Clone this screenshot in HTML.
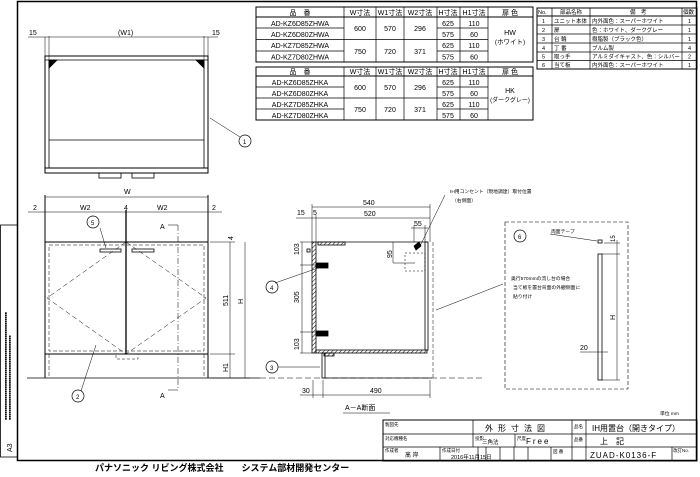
<!DOCTYPE html>
<html><head><meta charset="utf-8"><style>
html,body{margin:0;padding:0;background:#fff}
svg{display:block}
text{font-family:"Liberation Sans","Noto Sans CJK JP",sans-serif;fill:#000}
</style></head><body>
<svg width="700" height="477" viewBox="0 0 700 477" xmlns="http://www.w3.org/2000/svg">
<defs>
<pattern id="h" width="3" height="3" patternUnits="userSpaceOnUse" patternTransform="rotate(45)"><line x1="0" y1="0" x2="0" y2="3" stroke="#000" stroke-width="1"/></pattern>
</defs>
<!-- frame -->
<rect x="17.5" y="1.5" width="679" height="459" fill="none" stroke="#000" stroke-width="1.5"/>
<rect x="0.5" y="225" width="17" height="232" fill="none" stroke="#000" stroke-width="0.8"/>
<text transform="translate(12,452) rotate(-90)" font-size="7">A3</text>
<text transform="translate(7,420) rotate(-90)" font-size="3.5">■■■■■■■■■■■■■■■■■■■■■■■■■■■■■■■■■■■■■■■■■■■■■■■■■■■</text>
<text transform="translate(11,420) rotate(-90)" font-size="3.5">■■■■■■■■■■■■■■■■■■■■■■■■■■■■■■■■■■■■■■■■</text>

<!-- Table 1 -->
<g stroke="#000" stroke-width="0.7" fill="none">
<rect x="256" y="7" width="277" height="55" stroke-width="1"/>
<line x1="256" y1="17" x2="533" y2="17" stroke-width="1"/>
<line x1="256" y1="28" x2="344" y2="28"/>
<line x1="256" y1="39.5" x2="488" y2="39.5"/>
<line x1="256" y1="51" x2="344" y2="51"/><line x1="437" y1="51" x2="488" y2="51"/>
<line x1="437" y1="28" x2="488" y2="28"/>
<line x1="344" y1="7" x2="344" y2="62"/><line x1="376" y1="7" x2="376" y2="62"/><line x1="404" y1="7" x2="404" y2="62"/>
<line x1="437" y1="7" x2="437" y2="62"/><line x1="460" y1="7" x2="460" y2="62"/><line x1="488" y1="7" x2="488" y2="62"/>
</g>
<g font-size="7" text-anchor="middle">
<text x="300" y="15">品　番</text><text x="360" y="15">W寸法</text><text x="390" y="15">W1寸法</text><text x="420" y="15">W2寸法</text><text x="448" y="15">H寸法</text><text x="474" y="15">H1寸法</text><text x="510" y="15">扉 色</text>
<text x="300" y="26">AD-KZ6D85ZHWA</text><text x="300" y="37">AD-KZ6D80ZHWA</text><text x="300" y="48">AD-KZ7D85ZHWA</text><text x="300" y="59.5">AD-KZ7D80ZHWA</text>
<text x="360" y="31">600</text><text x="390" y="31">570</text><text x="420" y="31">296</text>
<text x="360" y="54">750</text><text x="390" y="54">720</text><text x="420" y="54">371</text>
<text x="448" y="26">625</text><text x="474" y="26">110</text><text x="448" y="37">575</text><text x="474" y="37">60</text>
<text x="448" y="48">625</text><text x="474" y="48">110</text><text x="448" y="59.5">575</text><text x="474" y="59.5">60</text>
<text x="510" y="35">HW</text><text x="510" y="44" font-size="6.5">(ホワイト)</text>
</g>
<!-- Table 2 -->
<g stroke="#000" stroke-width="0.7" fill="none">
<rect x="256" y="67" width="277" height="53" stroke-width="1"/>
<line x1="256" y1="76" x2="533" y2="76" stroke-width="1"/>
<line x1="256" y1="87" x2="344" y2="87"/><line x1="437" y1="87" x2="488" y2="87"/>
<line x1="256" y1="98" x2="488" y2="98"/>
<line x1="256" y1="109" x2="344" y2="109"/><line x1="437" y1="109" x2="488" y2="109"/>
<line x1="344" y1="67" x2="344" y2="120"/><line x1="376" y1="67" x2="376" y2="120"/><line x1="404" y1="67" x2="404" y2="120"/>
<line x1="437" y1="67" x2="437" y2="120"/><line x1="460" y1="67" x2="460" y2="120"/><line x1="488" y1="67" x2="488" y2="120"/>
</g>
<g font-size="7" text-anchor="middle">
<text x="300" y="74">品　番</text><text x="360" y="74">W寸法</text><text x="390" y="74">W1寸法</text><text x="420" y="74">W2寸法</text><text x="448" y="74">H寸法</text><text x="474" y="74">H1寸法</text><text x="510" y="74">扉 色</text>
<text x="300" y="85">AD-KZ6D85ZHKA</text><text x="300" y="96">AD-KZ6D80ZHKA</text><text x="300" y="107">AD-KZ7D85ZHKA</text><text x="300" y="118">AD-KZ7D80ZHKA</text>
<text x="360" y="90">600</text><text x="390" y="90">570</text><text x="420" y="90">296</text>
<text x="360" y="112">750</text><text x="390" y="112">720</text><text x="420" y="112">371</text>
<text x="448" y="85">625</text><text x="474" y="85">110</text><text x="448" y="96">575</text><text x="474" y="96">60</text>
<text x="448" y="107">625</text><text x="474" y="107">110</text><text x="448" y="118">575</text><text x="474" y="118">60</text>
<text x="510" y="93">HK</text><text x="510" y="102" font-size="6">(ダークグレー)</text>
</g>
<!-- Parts table -->
<g stroke="#000" stroke-width="0.7" fill="none">
<rect x="537" y="8" width="160" height="61" stroke-width="1"/>
<line x1="537" y1="16" x2="697" y2="16" stroke-width="1"/>
<line x1="537" y1="25" x2="697" y2="25"/><line x1="537" y1="34" x2="697" y2="34"/><line x1="537" y1="43" x2="697" y2="43"/>
<line x1="537" y1="52" x2="697" y2="52"/><line x1="537" y1="60.5" x2="697" y2="60.5"/>
<line x1="552" y1="8" x2="552" y2="69"/><line x1="590" y1="8" x2="590" y2="69"/><line x1="682" y1="8" x2="682" y2="69"/>
</g>
<g font-size="5.5">
<text x="538" y="14">No.</text><text x="560" y="14">部品名称</text><text x="630" y="14">備　考</text><text x="683" y="14">個数</text>
<text x="542" y="23">1</text><text x="554" y="23">ユニット本体</text><text x="592" y="23">内外面色：スーパーホワイト</text><text x="688" y="23">1</text>
<text x="542" y="32">2</text><text x="554" y="32">扉</text><text x="592" y="32">色：ホワイト、ダークグレー</text><text x="688" y="32">1</text>
<text x="542" y="41">3</text><text x="554" y="41">台 輪</text><text x="592" y="41">樹脂製（ブラック色）</text><text x="688" y="41">1</text>
<text x="542" y="50">4</text><text x="554" y="50">丁 番</text><text x="592" y="50">ブルム製</text><text x="688" y="50">4</text>
<text x="542" y="58.5">5</text><text x="554" y="58.5">取っ手</text><text x="592" y="58.5">アルミダイキャスト、色：シルバー</text><text x="688" y="58.5">2</text>
<text x="542" y="67">6</text><text x="554" y="67">当て板</text><text x="592" y="67">内外面色：スーパーホワイト</text><text x="688" y="67">1</text>
</g>

<!-- Top view -->
<g stroke="#000" fill="none" stroke-width="0.8">
<line x1="28" y1="37" x2="218" y2="37" stroke-width="0.5"/>
<line x1="45" y1="37" x2="45" y2="56" stroke-width="0.5"/><line x1="208" y1="37" x2="208" y2="56" stroke-width="0.5"/>
<line x1="49" y1="36" x2="49" y2="60" stroke-width="0.5"/><line x1="204" y1="36" x2="204" y2="60" stroke-width="0.5"/>
<rect x="45" y="56" width="163" height="112" stroke-width="1"/>
<line x1="45" y1="60" x2="208" y2="60"/>
<line x1="49" y1="60" x2="49" y2="168"/><line x1="204" y1="60" x2="204" y2="168"/>
<line x1="49" y1="140" x2="204" y2="140"/>
<rect x="45" y="168" width="163" height="5" stroke-width="1"/>
<rect x="99" y="173" width="22" height="5"/><rect x="132" y="173" width="22" height="5"/>
<path d="M49 60 L57 60 L49 68 Z M204 60 L196 60 L204 68 Z" fill="#000"/>
<line x1="210" y1="118" x2="240" y2="137" stroke-width="0.5"/>
<circle cx="245" cy="141" r="6" stroke-width="0.7"/>
</g>
<g font-size="7"><text x="29" y="35">15</text><text x="118" y="35">(W1)</text><text x="212" y="35">15</text><text x="243" y="144" font-size="6">1</text></g>

<!-- Front view -->
<g stroke="#000" fill="none" stroke-width="0.8">
<line x1="45" y1="197" x2="208" y2="197" stroke-width="0.5"/>
<line x1="28" y1="212" x2="222" y2="212" stroke-width="0.5"/>
<line x1="45" y1="195" x2="45" y2="378" stroke-width="1"/><line x1="208" y1="195" x2="208" y2="378" stroke-width="1"/>
<line x1="126" y1="210" x2="126" y2="354" stroke-width="1.3"/>
<rect x="45" y="242" width="163" height="112" stroke-width="1"/>
<rect x="49" y="245" width="155" height="106" stroke-dasharray="4,2" stroke-width="0.5"/>
<line x1="49" y1="354" x2="49" y2="378" stroke-dasharray="4,2" stroke-width="0.5"/>
<line x1="204" y1="354" x2="204" y2="378" stroke-dasharray="4,2" stroke-width="0.5"/>
<path d="M126 242 L47 298 L126 354 L206 298 Z" stroke-dasharray="5,3" stroke-width="0.5"/>
<rect x="116" y="354" width="22" height="5" stroke-dasharray="3,2" stroke-width="0.5"/>
<rect x="100" y="249" width="21" height="3"/><rect x="132" y="249" width="22" height="3"/>
<line x1="27" y1="378" x2="260" y2="378"/>
<line x1="210" y1="242" x2="235" y2="242" stroke-width="0.5"/>
<line x1="210" y1="354" x2="235" y2="354" stroke-width="0.5"/>
<line x1="210" y1="378" x2="250" y2="378" stroke-width="0.5"/>
<line x1="245" y1="242" x2="245" y2="378" stroke-width="0.5"/>
<line x1="230" y1="242" x2="230" y2="378" stroke-width="0.5"/>
<path d="M178 225 L178 390" stroke-dasharray="6,2,1,2" stroke-width="0.5"/>
<line x1="168" y1="225" x2="178" y2="225" stroke-width="0.5"/><line x1="168" y1="390" x2="178" y2="390" stroke-width="0.5"/>
<line x1="100" y1="228" x2="106" y2="248" stroke-width="0.5"/>
<circle cx="93" cy="222" r="6" stroke-width="0.7"/>
<line x1="81" y1="391" x2="96" y2="345" stroke-width="0.5"/>
<circle cx="78" cy="396" r="6" stroke-width="0.7"/>
</g>
<g font-size="7">
<text x="124" y="194">W</text><text x="33" y="210">2</text><text x="80" y="210">W2</text><text x="124" y="210">4</text><text x="157" y="210">W2</text><text x="212" y="210">2</text>
<text x="160" y="229">A</text><text x="160" y="398">A</text>
<text x="91" y="225" font-size="6">5</text><text x="76" y="399" font-size="6">2</text>
<text transform="translate(233,240) rotate(-90)">4</text>
<text transform="translate(228,306) rotate(-90)">511</text>
<text transform="translate(243,304) rotate(-90)">H</text>
<text transform="translate(228,372) rotate(-90)">H1</text>
</g>

<!-- Section A-A -->
<g stroke="#000" fill="none" stroke-width="0.8">
<line x1="312" y1="207" x2="430" y2="207" stroke-width="0.5"/>
<line x1="296" y1="218" x2="430" y2="218" stroke-width="0.5"/>
<line x1="430" y1="204" x2="430" y2="242" stroke-width="0.5"/>
<line x1="312" y1="204" x2="312" y2="242" stroke-width="0.5"/><line x1="316" y1="215" x2="316" y2="242" stroke-width="0.5"/>
<rect x="312" y="242" width="4" height="111" fill="url(#h)"/>
<rect x="316" y="350" width="111" height="3" fill="url(#h)"/>
<rect x="425" y="242" width="3" height="108"/>
<rect x="318" y="242" width="27" height="3" fill="url(#h)"/>
<line x1="316" y1="242" x2="428" y2="242"/>
<rect x="322" y="353" width="3" height="25"/>
<rect x="324" y="353" width="10" height="3" fill="url(#h)"/>
<line x1="325" y1="378" x2="432" y2="378"/>
<line x1="260" y1="378" x2="482" y2="378" stroke-dasharray="6,3" stroke-width="0.5"/>
<line x1="433" y1="242" x2="433" y2="378" stroke-dasharray="4,2" stroke-width="0.5"/>
<rect x="316" y="263" width="12" height="5" fill="#000"/><rect x="316" y="331" width="12" height="5" fill="#000"/>
<rect x="307" y="249" width="3" height="3"/>
<line x1="300" y1="242" x2="312" y2="242" stroke-width="0.5"/><line x1="300" y1="353" x2="312" y2="353" stroke-width="0.5"/>
<line x1="300" y1="265" x2="316" y2="265" stroke-width="0.5"/><line x1="300" y1="332" x2="316" y2="332" stroke-width="0.5"/>
<line x1="302" y1="242" x2="302" y2="353" stroke-width="0.5"/>
<line x1="393" y1="242" x2="393" y2="263" stroke-width="0.5"/><line x1="393" y1="263" x2="415" y2="263" stroke-width="0.5"/>
<line x1="414" y1="225" x2="414" y2="242" stroke-width="0.5"/><line x1="425" y1="225" x2="425" y2="242" stroke-width="0.5"/>
<line x1="411" y1="228" x2="428" y2="228" stroke-width="0.5"/>
<rect x="405" y="253" width="20" height="18" stroke-dasharray="2,2" stroke-width="0.5"/>
<path d="M414 246 L419 242 L421 246 L416 250 Z" fill="#000"/>
<line x1="420" y1="246" x2="445" y2="195" stroke-width="0.5"/>
<line x1="275" y1="283" x2="318" y2="268" stroke-width="0.5"/><circle cx="272" cy="287" r="6" stroke-width="0.7"/>
<line x1="278" y1="367" x2="320" y2="367" stroke-width="0.5"/><circle cx="272" cy="367" r="6" stroke-width="0.7"/>
<line x1="300" y1="395" x2="323" y2="395" stroke-width="0.5"/>
<line x1="323" y1="395" x2="430" y2="395" stroke-width="0.5"/>
<line x1="313" y1="380" x2="313" y2="398" stroke-width="0.5"/><line x1="323" y1="380" x2="323" y2="398" stroke-width="0.5"/><line x1="430" y1="380" x2="430" y2="398" stroke-width="0.5"/>
<line x1="343" y1="413" x2="390" y2="413" stroke-width="0.6"/>
<rect x="505" y="222" width="123" height="167" stroke-dasharray="4,2" stroke-width="0.6"/>
<circle cx="520" cy="236" r="6" stroke-width="0.7"/>
<rect x="598" y="254" width="4" height="126"/>
<rect x="598" y="240" width="4" height="3"/>
<line x1="550" y1="234" x2="597" y2="241" stroke-width="0.5"/>
<line x1="602" y1="254" x2="620" y2="254" stroke-width="0.5"/><line x1="602" y1="380" x2="620" y2="380" stroke-width="0.5"/>
<line x1="617" y1="240" x2="617" y2="380" stroke-width="0.5"/>
<line x1="604" y1="243" x2="620" y2="243" stroke-width="0.5"/>
<line x1="580" y1="352" x2="608" y2="352" stroke-width="0.5"/>
<line x1="503" y1="284" x2="436" y2="310" stroke-width="0.5"/>
</g>
<g font-size="7">
<text x="363" y="205">540</text><text x="364" y="216">520</text><text x="297" y="215">15</text><text x="313" y="215">5</text>
<text x="414" y="226">55</text>
<text transform="translate(392,258) rotate(-90)">95</text>
<text transform="translate(299,255) rotate(-90)">103</text>
<text transform="translate(299,303) rotate(-90)">305</text>
<text transform="translate(299,350) rotate(-90)">103</text>
<text x="270" y="290" font-size="6">4</text><text x="270" y="370" font-size="6">3</text><text x="518" y="239" font-size="6">6</text>
<text x="302" y="393">30</text><text x="370" y="393">490</text>
<text x="345" y="410">A－A断面</text>
<text x="580" y="350">20</text>
<text transform="translate(615,242) rotate(-90)" font-size="6">15</text>
<text transform="translate(615,320) rotate(-90)">H</text>
</g>
<g font-size="4.8">
<text x="450" y="193">IH用コンセント（現地調達）取付位置</text>
<text x="452" y="202">（右側面）</text>
<text x="551" y="233">両面テープ</text>
<text x="511" y="280">奥行570mmの流し台の場合</text>
<text x="513" y="289">当て板を置台背面の外観側面に</text>
<text x="513" y="298">貼り付け</text>
<text x="660" y="415">単位 mm</text>
</g>

<!-- Title block -->
<g stroke="#000" fill="none" stroke-width="0.7">
<rect x="383" y="420" width="314" height="41" stroke-width="1"/>
<line x1="383" y1="434" x2="697" y2="434"/><line x1="383" y1="447" x2="697" y2="447"/>
<line x1="473" y1="420" x2="473" y2="447"/><line x1="515" y1="434" x2="515" y2="447"/>
<line x1="572" y1="420" x2="572" y2="461"/><line x1="586" y1="420" x2="586" y2="461"/>
<line x1="440" y1="447" x2="440" y2="461"/><line x1="478" y1="447" x2="478" y2="461"/><line x1="486" y1="447" x2="486" y2="461"/>
<line x1="500" y1="447" x2="500" y2="461"/><line x1="514" y1="447" x2="514" y2="461"/><line x1="528" y1="447" x2="528" y2="461"/>
<line x1="551" y1="447" x2="551" y2="461"/><line x1="672" y1="447" x2="672" y2="461"/>
</g>
<g font-size="4.5">
<text x="385" y="426">製図先</text><text x="385" y="440">対応機種名</text><text x="385" y="452">作成者</text>
<text x="475" y="440">投影</text><text x="517" y="440">尺度</text><text x="574" y="428">品名</text><text x="574" y="441">品番</text>
<text x="442" y="452">作成日付</text><text x="553" y="453">図 番</text><text x="673" y="452">改訂No.</text>
</g>
<g font-size="8">
<text x="485" y="431" letter-spacing="5">外形寸法図</text>
<text x="592" y="431">IH用置台（開きタイプ）</text>
<text x="600" y="444">上　記</text>
<text x="482" y="444" font-size="5.5">三角法</text>
<text x="526" y="444" letter-spacing="2">Free</text>
<text x="405" y="457" font-size="6">髙 岸</text>
<text x="451" y="459" font-size="5.5">2016年11月15日</text>
<text x="590" y="458" letter-spacing="1">ZUAD-K0136-F</text>
</g>
<text x="95" y="471" font-size="9" font-weight="bold">パナソニック リビング株式会社　　システム部材開発センター</text>
</svg>
</body></html>
